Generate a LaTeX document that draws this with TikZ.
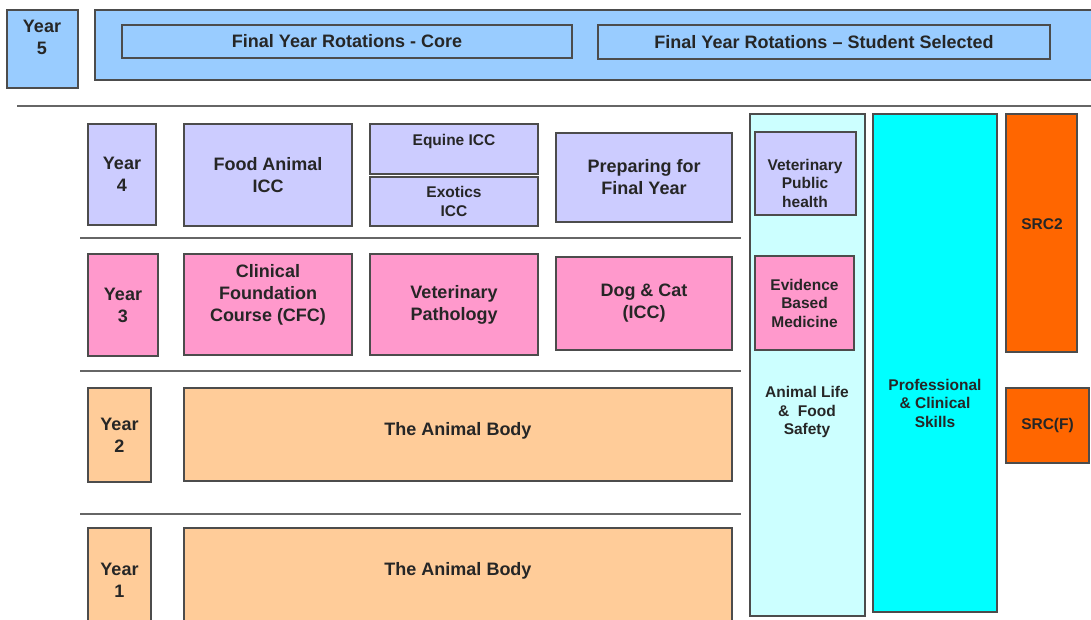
\documentclass[tikz,border=0pt]{standalone}
\usepackage{fontspec}
\setmainfont{Liberation Sans}
\usetikzlibrary{positioning}
\definecolor{yrblue}{HTML}{99CCFF}
\definecolor{yrlav}{HTML}{CCCCFF}
\definecolor{yrpink}{HTML}{FF99CC}
\definecolor{yrpeach}{HTML}{FFCC99}
\definecolor{yrcyanl}{HTML}{CCFFFF}
\definecolor{yrcyan}{HTML}{00FFFF}
\definecolor{yrorange}{HTML}{FF6600}
\begin{document}
\begin{tikzpicture}[x=1pt, y=-1pt,
    box/.style={draw=black!70, line width=1.2pt, rectangle, anchor=north west,
                outer sep=0pt, inner sep=0pt, align=center, text=black!85},
    sz/.style 2 args={minimum width=#1, minimum height=#2},
    big/.style={font=\fontsize{18}{22}\selectfont\bfseries, align=center, text=black!85},
    small/.style={font=\fontsize{15.5}{18.5}\selectfont\bfseries, align=center, text=black!85},
    rule/.style={draw=black!60, line width=2.5pt}]
    \useasboundingbox (0,0) rectangle (1091,620);

    % Year 5
    \node (y5) at (7,10) [box, fill=yrblue, sz={71}{78}] {};
    \node (y5t) at (42,37) [big] {Year\\5};
    \node (fyr) at (95,10) [box, fill=yrblue, sz={1010}{70}] {};
    \node (core) at (122,25) [box, big, fill=yrblue, sz={450}{33}] {Final Year Rotations - Core};
    \node (ssel) at (598,25) [box, big, fill=yrblue, sz={452}{34}] {Final Year Rotations \textendash\ Student Selected};

    \draw [rule] (17,106) -- (1091,106);
    \draw [rule] (80,238) -- (741,238);
    \draw [rule] (80,371) -- (741,371);
    \draw [rule] (80,514) -- (741,514);

    % Year 4
    \node (y4) at (88,124) [box, big, fill=yrlav, sz={68}{101}] {Year\\4};
    \node (fa) at (184,124) [box, big, fill=yrlav, sz={168}{102}] {Food Animal\\ICC};
    \node (eq) at (370,124) [box, fill=yrlav, sz={168}{50}] {};
    \node (eqt) at (454,141) [small] {Equine ICC};
    \node (ex) at (370,177) [box, small, fill=yrlav, sz={168}{49}] {Exotics\\ICC};
    \node (pf) at (556,133) [box, big, fill=yrlav, sz={176}{89}] {Preparing for\\Final Year};

    % Year 3
    \node (y3) at (88,254) [box, big, fill=yrpink, sz={70}{102}] {Year\\3};
    \node (cfc) at (184,254) [box, fill=yrpink, sz={168}{101}] {};
    \node (cfct) at (268,295) [big] {Clinical\\Foundation\\Course (CFC)};
    \node (vp) at (370,254) [box, big, fill=yrpink, sz={168}{101}] {Veterinary\\Pathology};
    \node (dc) at (556,257) [box, big, fill=yrpink, sz={176}{93}] {Dog \& Cat\\(ICC)};

    % Year 2
    \node (y2) at (88,388) [box, big, fill=yrpeach, sz={63}{94}] {Year\\2};
    \node (ab2) at (184,388) [box, fill=yrpeach, sz={548}{93}] {};
    \node (ab2t) at (458,431) [big] {The Animal Body};

    % Year 1
    \node (y1) at (88,528) [box, big, fill=yrpeach, sz={63}{104}] {Year\\1};
    \node (ab1) at (184,528) [box, fill=yrpeach, sz={548}{102}] {};
    \node (ab1t) at (458,571) [big] {The Animal Body};

    % strands running through the years
    \node (alfs) at (750,114) [box, fill=yrcyanl, sz={115}{502}] {};
    \node (alfst) at (807,412) [small] {Animal Life\\\&~~Food\\Safety};
    \node (vph) at (755,132) [box, fill=yrlav, sz={101}{83}] {};
    \node (vpht) at (805,183) [small] {Veterinary\\Public\\health};
    \node (ebm) at (755,256) [box, small, fill=yrpink, sz={99}{94}] {Evidence\\Based\\Medicine};
    \node (pcs) at (873,114) [box, fill=yrcyan, sz={124}{498}] {};
    \node (pcst) at (935,403) [small] {Professional\\\& Clinical\\Skills};
    \node (src2) at (1006,114) [box, fill=yrorange, sz={71}{238}] {};
    \node (src2t) at (1042,224) [small] {SRC2};
    \node (srcf) at (1006,388) [box, small, fill=yrorange, sz={83}{75}] {SRC(F)};
\end{tikzpicture}
\end{document}
